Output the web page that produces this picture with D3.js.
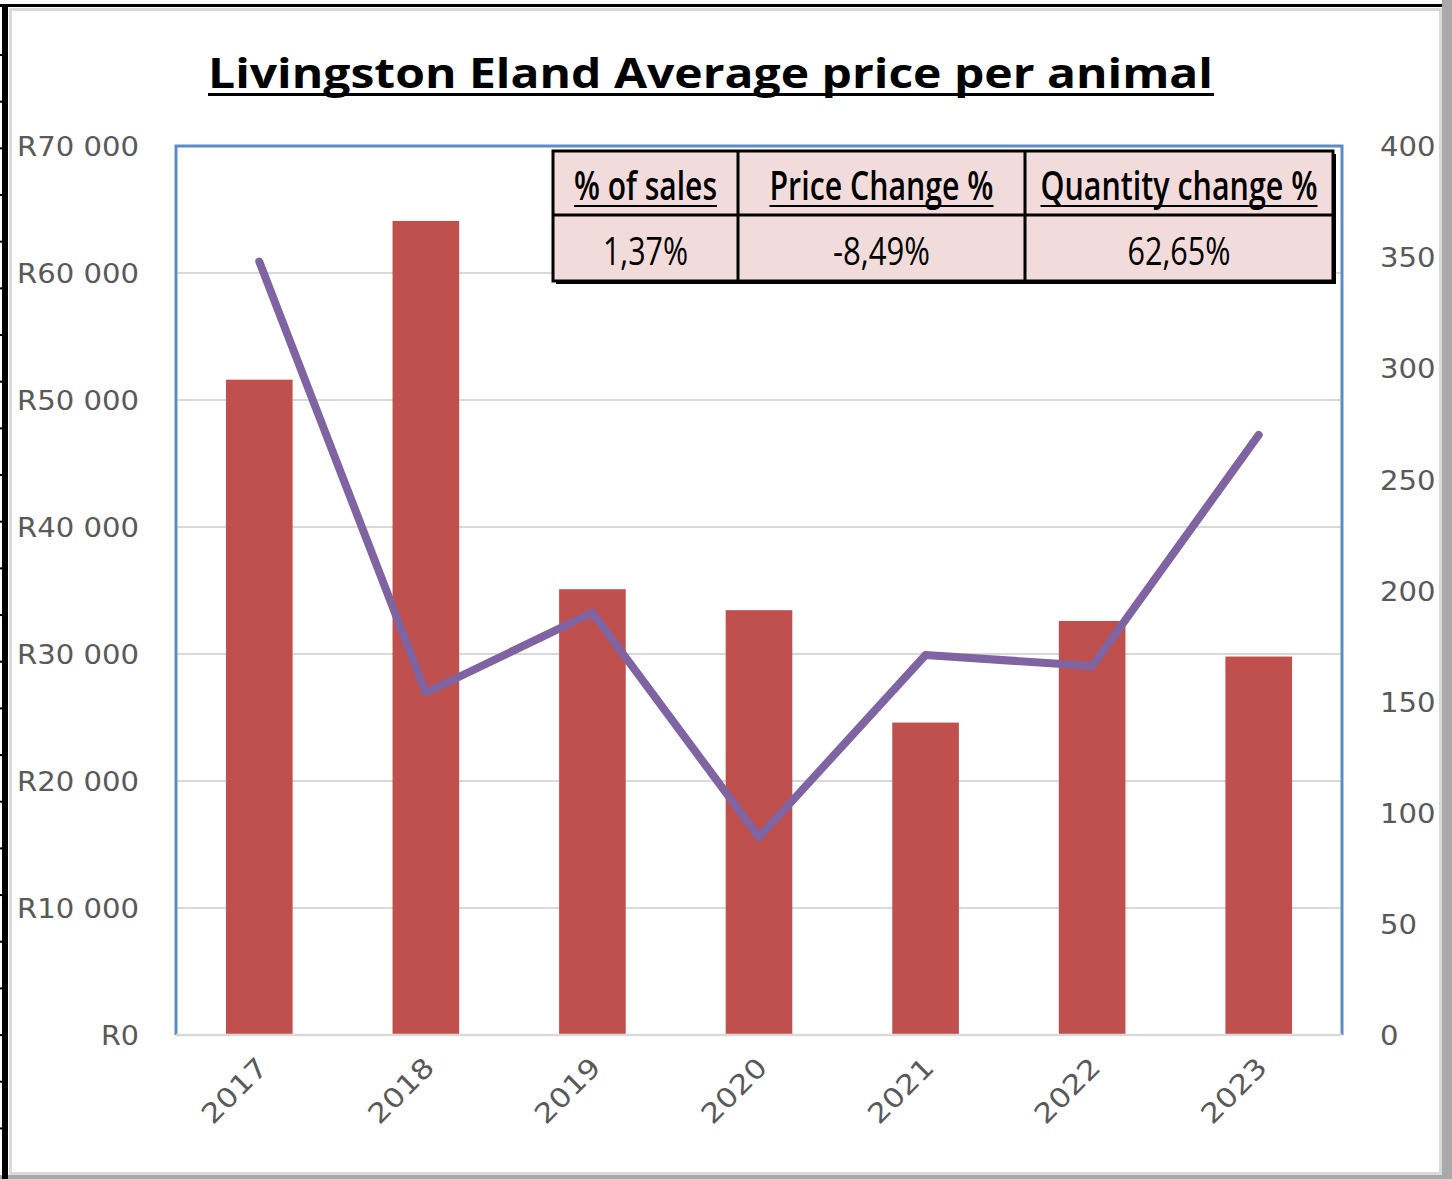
<!DOCTYPE html>
<html>
<head>
<meta charset="utf-8">
<script src="https://cdn.jsdelivr.net/npm/d3@7"></script>
<style>
  html, body { margin: 0; padding: 0; background: #ffffff; }
  svg { display: block; }
</style>
</head>
<body>
<script>
// ---- Data ----
const years = ["2017", "2018", "2019", "2020", "2021", "2022", "2023"];
const avgPrice = [51600, 64100, 35100, 33450, 24600, 32600, 29800];
const quantity = [348, 154, 190, 89, 171, 166, 270];
const priceTicks = [0, 10000, 20000, 30000, 40000, 50000, 60000, 70000];
const qtyTicks = [0, 50, 100, 150, 200, 250, 300, 350, 400];
const tableHeaders = ["% of sales", "Price Change %", "Quantity change %"];
const tableValues = ["1,37%", "-8,49%", "62,65%"];
const titleText = "Livingston Eland Average price per animal";

const W = 1452, H = 1179;
const svg = d3.select("body").append("svg").attr("width", W).attr("height", H);

// ---- Frame (spreadsheet-like surroundings) ----
svg.append("rect").attr("x", 1442).attr("y", 0).attr("width", 10).attr("height", H).attr("fill", "#a9a9a9");
svg.append("rect").attr("x", 0).attr("y", 1175).attr("width", W).attr("height", 4).attr("fill", "#a9a9a9");
svg.append("rect").attr("x", 10.5).attr("y", 9.5).attr("width", 1430).attr("height", 1164)
  .attr("fill", "#ffffff").attr("stroke", "#d9d9d9").attr("stroke-width", 3);
svg.append("line").attr("x1", 0).attr("x2", 1442).attr("y1", 5.5).attr("y2", 5.5)
  .attr("stroke", "#000").attr("stroke-width", 3);
svg.append("line").attr("x1", 5).attr("x2", 5).attr("y1", 4).attr("y2", 1179)
  .attr("stroke", "#000").attr("stroke-width", 6);
d3.range(55, 1175, 46.67).forEach(y => {
  svg.append("line").attr("x1", 0).attr("x2", 8).attr("y1", y).attr("y2", y)
    .attr("stroke", "#000").attr("stroke-width", 2);
});

// ---- Title ----
svg.append("text").attr("x", 208).attr("y", 88)
  .attr("font-family", "'Open Sans', sans-serif").attr("font-weight", 700).attr("font-size", 42)
  .attr("textLength", 1005).attr("lengthAdjust", "spacingAndGlyphs")
  .attr("fill", "#000").text(titleText);
svg.append("line").attr("x1", 208).attr("x2", 1214).attr("y1", 94.5).attr("y2", 94.5)
  .attr("stroke", "#000").attr("stroke-width", 3);

// ---- Plot ----
const plot = { left: 176, right: 1342, top: 146, bottom: 1035 };
const x = d3.scaleBand().domain(years).range([plot.left, plot.right]).paddingInner(0.6).paddingOuter(0.3);
const yL = d3.scaleLinear().domain([0, 70000]).range([plot.bottom, plot.top]);
const yR = d3.scaleLinear().domain([0, 400]).range([plot.bottom, plot.top]);

// gridlines
svg.append("g").selectAll("line").data(priceTicks.filter(d => d > 0 && d < 70000)).join("line")
  .attr("x1", plot.left).attr("x2", plot.right)
  .attr("y1", d => yL(d)).attr("y2", d => yL(d))
  .attr("stroke", "#d9d9d9").attr("stroke-width", 2);

// bars
svg.append("g").selectAll("rect").data(years).join("rect")
  .attr("x", d => x(d)).attr("width", x.bandwidth())
  .attr("y", (d, i) => yL(avgPrice[i])).attr("height", (d, i) => plot.bottom - yL(avgPrice[i]))
  .attr("fill", "#c0504d");

// plot border: blue left/top/right, gray bottom
svg.append("path")
  .attr("d", `M${plot.left},${plot.bottom} V${plot.top} H${plot.right} V${plot.bottom}`)
  .attr("fill", "none").attr("stroke", "#5b8bc9").attr("stroke-width", 3);
svg.append("line").attr("x1", plot.left).attr("x2", plot.right)
  .attr("y1", plot.bottom).attr("y2", plot.bottom)
  .attr("stroke", "#d9d9d9").attr("stroke-width", 2.5);

// line
const line = d3.line().x((d, i) => x(years[i]) + x.bandwidth() / 2).y(d => yR(d));
svg.append("path").datum(quantity).attr("d", line)
  .attr("fill", "none").attr("stroke", "#8064a2").attr("stroke-width", 8)
  .attr("stroke-linejoin", "round").attr("stroke-linecap", "round");

// ---- Axes ----
function fmtRand(d) {
  if (d === 0) return "R0";
  const th = Math.floor(d / 1000);
  return "R" + th + " 000";
}
const leftAxis = d3.axisLeft(yL).tickValues(priceTicks).tickSize(0).tickPadding(0).tickFormat(fmtRand);
const gL = svg.append("g").attr("transform", `translate(139,0)`).call(leftAxis);
gL.select(".domain").remove();
gL.selectAll("text")
  .attr("font-family", "'DejaVu Sans', sans-serif").attr("font-size", 27).attr("fill", "#595959")
  .attr("dy", "0.36em")
  .each(function (d) {
    d3.select(this).attr("textLength", d === 0 ? 38 : 122).attr("lengthAdjust", "spacingAndGlyphs");
  });

const rightAxis = d3.axisRight(yR).tickValues(qtyTicks).tickSize(0).tickPadding(0);
const gR = svg.append("g").attr("transform", `translate(1380,0)`).call(rightAxis);
gR.select(".domain").remove();
gR.selectAll("text")
  .attr("font-family", "'DejaVu Sans', sans-serif").attr("font-size", 27).attr("fill", "#595959")
  .attr("dy", "0.36em")
  .each(function (d) {
    const s = String(d);
    d3.select(this).attr("textLength", s.length * 18.5).attr("lengthAdjust", "spacingAndGlyphs");
  });

const bottomAxis = d3.axisBottom(x).tickSize(0).tickPadding(0);
const gB = svg.append("g").attr("transform", `translate(0,${plot.bottom})`).call(bottomAxis);
gB.select(".domain").remove();
gB.selectAll("text")
  .attr("font-family", "'DejaVu Sans', sans-serif").attr("font-size", 27).attr("fill", "#595959")
  .attr("text-anchor", "end").attr("dy", "0")
  .attr("transform", "translate(10,34) rotate(-45)")
  .attr("y", 0).attr("x", 0)
  .attr("textLength", 80).attr("lengthAdjust", "spacingAndGlyphs");

// ---- Stats table ----
const tbl = { x: 553, y: 151, w: 780, h: 130, rowSplit: 215 };
const colEdges = [553, 738, 1025, 1333];
svg.append("rect").attr("x", tbl.x + 3).attr("y", tbl.y + 3).attr("width", tbl.w).attr("height", tbl.h).attr("fill", "#000");
svg.append("rect").attr("x", tbl.x).attr("y", tbl.y).attr("width", tbl.w).attr("height", tbl.h)
  .attr("fill", "#f2dcdb").attr("stroke", "#000").attr("stroke-width", 3);
svg.append("line").attr("x1", tbl.x).attr("x2", tbl.x + tbl.w).attr("y1", tbl.rowSplit).attr("y2", tbl.rowSplit)
  .attr("stroke", "#000").attr("stroke-width", 3);
svg.append("g").selectAll("line").data(colEdges.slice(1, 3)).join("line")
  .attr("x1", d => d).attr("x2", d => d).attr("y1", tbl.y).attr("y2", tbl.y + tbl.h)
  .attr("stroke", "#000").attr("stroke-width", 3);

const headerWidths = [143, 224, 277];
const valueWidths = [85, 97, 103];
const tg = svg.append("g");
tableHeaders.forEach((h, i) => {
  const cx = (colEdges[i] + colEdges[i + 1]) / 2;
  tg.append("text").attr("x", cx).attr("y", 200).attr("text-anchor", "middle")
    .attr("font-family", "'Open Sans', sans-serif").attr("font-weight", 600).attr("font-size", 39)
    .attr("textLength", headerWidths[i]).attr("lengthAdjust", "spacingAndGlyphs")
    .attr("fill", "#000").text(h);
  tg.append("line").attr("x1", cx - headerWidths[i] / 2).attr("x2", cx + headerWidths[i] / 2)
    .attr("y1", 206).attr("y2", 206).attr("stroke", "#000").attr("stroke-width", 2);
  tg.append("text").attr("x", cx).attr("y", 265).attr("text-anchor", "middle")
    .attr("font-family", "'Open Sans', sans-serif").attr("font-weight", 400).attr("font-size", 39)
    .attr("textLength", valueWidths[i]).attr("lengthAdjust", "spacingAndGlyphs")
    .attr("fill", "#000").text(tableValues[i]);
});
</script>
</body>
</html>
